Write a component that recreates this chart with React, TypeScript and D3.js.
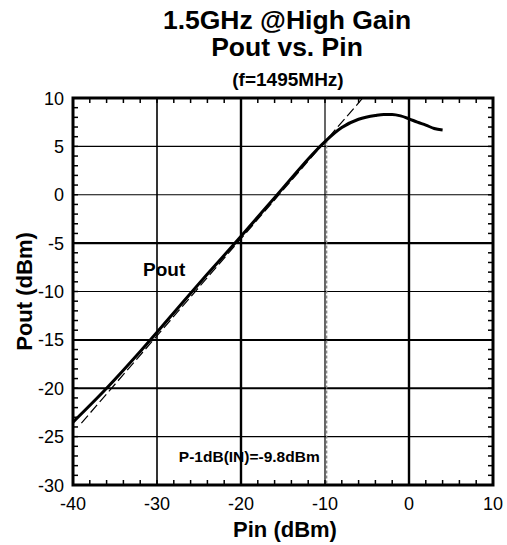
import React from "react";
import * as d3 from "d3";

const pinValues = [-40, -36, -32, -28, -24, -20, -16, -14, -12, -10, -8, -6, -4, -3, -2, -1, 0, 1, 2, 3, 4];
const poutValues = [-23.5, -20, -16.2, -12.2, -8.2, -4.3, -0.3, 1.7, 3.7, 5.5, 6.95, 7.8, 8.2, 8.3, 8.3, 8.15, 7.85, 7.5, 7.2, 6.85, 6.7];

const linearPin = [-39, -5.6];
const linearPout = [-23.6, 9.9];

const p1dbIn = -9.8;
const p1dbOut = 5.6;

const xTicks = [-40, -30, -20, -10, 0, 10];
const yTicks = [10, 5, 0, -5, -10, -15, -20, -25, -30];

const titleLines = ["1.5GHz @High Gain", "Pout vs. Pin"];
const subTitle = "(f=1495MHz)";
const xLabel = "Pin (dBm)";
const yLabel = "Pout (dBm)";
const seriesLabel = "Pout";
const p1dbLabel = "P-1dB(IN)=-9.8dBm";

const W = 507;
const H = 545;
const M = { left: 73, right: 493, top: 98, bottom: 485 };

export default function App() {
  const x = d3.scaleLinear().domain([-40, 10]).range([M.left, M.right]);
  const y = d3.scaleLinear().domain([-30, 10]).range([M.bottom, M.top]);

  const curve = d3
    .line<number>()
    .x((_, i) => x(pinValues[i]))
    .y((d) => y(d))
    .curve(d3.curveMonotoneX)(poutValues) as string;

  const lin = d3
    .line<number>()
    .x((_, i) => x(linearPin[i]))
    .y((d) => y(d))(linearPout) as string;

  const xMinor = d3.range(-40, 10.01, 2);
  const yMinor = d3.range(-30, 10.01, 1);
  const font = "Arial, 'Liberation Sans', sans-serif";

  const xGridW: Record<number, number> = { [-30]: 1.6, [-20]: 2.4, [-10]: 1.2, [0]: 2.4 };
  const yGridW: Record<number, number> = { [5]: 1.2, [0]: 1.2, [-5]: 2.2, [-10]: 1.2, [-15]: 2, [-20]: 2.2, [-25]: 1.4 };

  return (
    <svg
      width={W}
      height={H}
      style={{ position: "absolute", left: 0, top: 0, background: "#fff" }}
      fontFamily={font}
    >
      <rect width={W} height={H} fill="#fff" />
      {/* Title */}
      <text x={287} y={29} textAnchor="middle" fontSize={26.5} fontWeight="bold">
        {titleLines[0]}
      </text>
      <text x={287} y={56} textAnchor="middle" fontSize={26.5} fontWeight="bold">
        {titleLines[1]}
      </text>
      <text x={288} y={86} textAnchor="middle" fontSize={19} fontWeight="bold">
        {subTitle}
      </text>

      {/* Grid */}
      {xTicks
        .filter((t) => t > -40 && t < 10)
        .map((t) => (
          <line key={"gx" + t} x1={x(t)} x2={x(t)} y1={M.top} y2={M.bottom} stroke="#000" strokeWidth={xGridW[t] ?? 1.5} />
        ))}
      {yTicks
        .filter((t) => t > -30 && t < 10)
        .map((t) => (
          <line key={"gy" + t} x1={M.left} x2={M.right} y1={y(t)} y2={y(t)} stroke="#000" strokeWidth={yGridW[t] ?? 1.5} />
        ))}

      {/* Minor ticks */}
      {xMinor.map((t) => (
        <g key={"mx" + t}>
          <line x1={x(t)} x2={x(t)} y1={M.bottom} y2={M.bottom - 5} stroke="#000" strokeWidth={1.5} />
          <line x1={x(t)} x2={x(t)} y1={M.top} y2={M.top + 5} stroke="#000" strokeWidth={1.5} />
        </g>
      ))}
      {yMinor.map((t) => (
        <g key={"my" + t}>
          <line x1={M.left} x2={M.left + 5} y1={y(t)} y2={y(t)} stroke="#000" strokeWidth={1.5} />
          <line x1={M.right} x2={M.right - 5} y1={y(t)} y2={y(t)} stroke="#000" strokeWidth={1.5} />
        </g>
      ))}

      {/* P1dB marker */}
      <line
        x1={x(p1dbIn)}
        x2={x(p1dbIn)}
        y1={y(p1dbOut)}
        y2={M.bottom}
        stroke="#888"
        strokeWidth={1.3}
        strokeDasharray="3,2"
      />

      {/* Linear extrapolation */}
      <path d={lin} fill="none" stroke="#000" strokeWidth={1.2} strokeDasharray="10,4" />

      {/* Pout curve */}
      <path d={curve} fill="none" stroke="#000" strokeWidth={3} strokeLinejoin="round" />

      {/* Border */}
      <rect
        x={M.left}
        y={M.top}
        width={M.right - M.left}
        height={M.bottom - M.top}
        fill="none"
        stroke="#000"
        strokeWidth={3}
      />

      {/* Axis tick labels */}
      {xTicks.map((t) => (
        <text key={"xl" + t} x={x(t)} y={M.bottom + 25} textAnchor="middle" fontSize={18}>
          {t}
        </text>
      ))}
      {yTicks.map((t) => (
        <text key={"yl" + t} x={M.left - 9} y={y(t) + 6.5} textAnchor="end" fontSize={18}>
          {t}
        </text>
      ))}

      {/* Axis titles */}
      <text x={285} y={537} textAnchor="middle" fontSize={22} fontWeight="bold">
        {xLabel}
      </text>
      <text
        transform={`translate(32, ${(M.top + M.bottom) / 2}) rotate(-90)`}
        textAnchor="middle"
        fontSize={22}
        fontWeight="bold"
      >
        {yLabel}
      </text>

      {/* Annotations */}
      <text x={143} y={276} fontSize={19} fontWeight="bold">
        {seriesLabel}
      </text>
      <text x={x(p1dbIn) - 7} y={462} textAnchor="end" fontSize={15.5} fontWeight="bold">
        {p1dbLabel}
      </text>
    </svg>
  );
}
